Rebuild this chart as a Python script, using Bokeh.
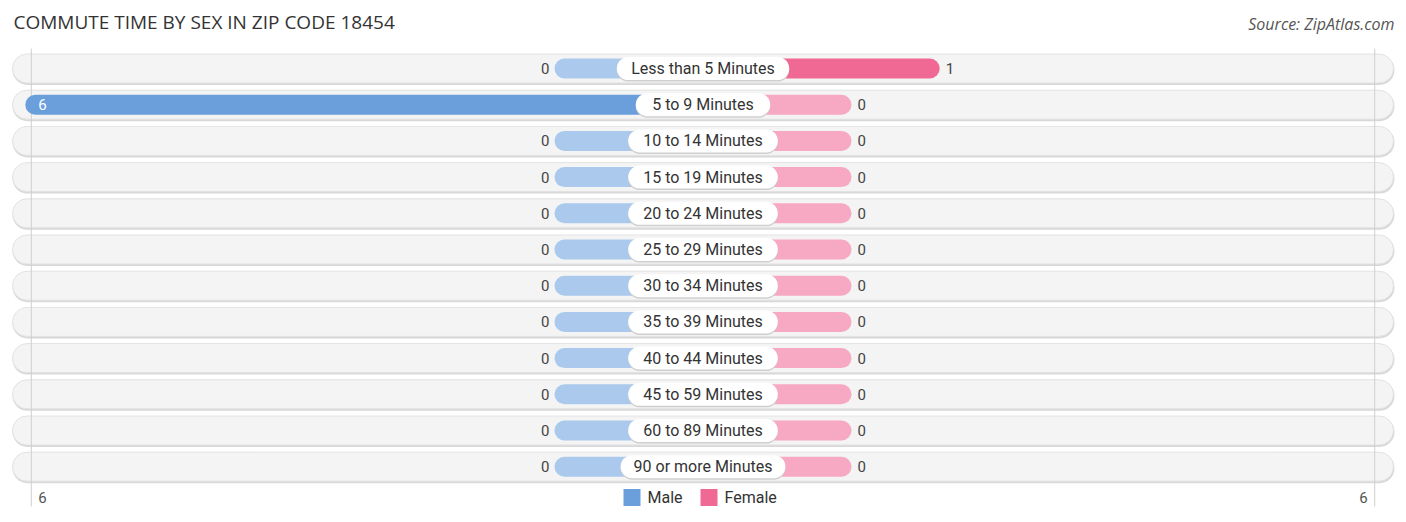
from bokeh.plotting import figure
from bokeh.models import Range1d, ColumnDataSource
from bokeh.core.properties import value
from bokeh.embed import file_html
from bokeh.resources import INLINE

# ---------------- data ----------------
categories = ["Less than 5 Minutes", "5 to 9 Minutes", "10 to 14 Minutes",
              "15 to 19 Minutes", "20 to 24 Minutes", "25 to 29 Minutes",
              "30 to 34 Minutes", "35 to 39 Minutes", "40 to 44 Minutes",
              "45 to 59 Minutes", "60 to 89 Minutes", "90 or more Minutes"]
male = [0, 6, 0, 0, 0, 0, 0, 0, 0, 0, 0, 0]
female = [1, 0, 0, 0, 0, 0, 0, 0, 0, 0, 0, 0]
axis_max = 6
axis_tick_labels = ["6", "6"]
title_text = "COMMUTE TIME BY SEX IN ZIP CODE 18454"
source_text = "Source: ZipAtlas.com"
legend_labels = ["Male", "Female"]

# ---------------- styling / layout ----------------
W, H = 1400, 516
CX = 702.5          # centre line, px
K = 88.2            # px per unit
STUB = 148.5 / K    # minimum bar stub under label
ROW0 = 68.0         # first row centre, px
ROWH = 36.2         # row spacing px

MALE_STRONG = "#6a9fdc"
MALE_LIGHT = "#aac9ec"
FEMALE_STRONG = "#f06894"
FEMALE_LIGHT = "#f7a8c2"
FONT = "Roboto"


def fx(px):
    return (px - CX) / K


def fy(py):
    return (py - ROW0) / ROWH


def dx(px):
    return px / K


def dy(py):
    return py / ROWH


p = figure(width=W, height=H, x_range=Range1d(fx(0), fx(W)),
           y_range=Range1d(fy(H), fy(0)), output_backend="svg",
           toolbar_location=None, min_border=0,
           x_axis_location=None, y_axis_location=None)
p.grid.visible = False
p.outline_line_color = None
p.background_fill_color = "white"
p.border_fill_color = "white"

n = len(categories)
rows = list(range(n))

# track backgrounds
p.hbar(y=[r + dy(1.5) for r in rows], left=fx(12), right=fx(1394), height=dy(30),
       fill_color="#d8d8d8", line_color=None, border_radius=15)
p.hbar(y=rows, left=fx(12), right=fx(1393), height=dy(29),
       fill_color="#f4f4f4", line_color="#e2e2e2", line_width=1, border_radius=15)

# grid lines at the axis extremes
ext = STUB + axis_max - dx(6)
p.segment(x0=[-ext, ext], x1=[-ext, ext], y0=fy(48), y1=fy(506),
          line_color="#cfcfcf", line_width=1)

# bars
m_left = [-(STUB + v) for v in male]
f_right = [STUB + v for v in female]
m_col = [MALE_STRONG if v > 0 else MALE_LIGHT for v in male]
f_col = [FEMALE_STRONG if v > 0 else FEMALE_LIGHT for v in female]
bars = ColumnDataSource(dict(y=rows, ml=m_left, fr=f_right, mc=m_col, fc=f_col))
p.hbar(y="y", left="ml", right=0, height=dy(20), fill_color="mc",
       line_color=None, border_radius=10, source=bars)
p.hbar(y="y", left=0, right="fr", height=dy(20), fill_color="fc",
       line_color=None, border_radius=10, source=bars)

# label pills
pill_w = [dx(len(c) * 7.6 + 28) for c in categories]
p.hbar(y=[r + dy(1.5) for r in rows], left=[-w / 2 for w in pill_w],
       right=[w / 2 for w in pill_w], height=dy(23), fill_color="#cfcfcf",
       line_color=None, border_radius=12)
p.hbar(y=rows, left=[-w / 2 for w in pill_w], right=[w / 2 for w in pill_w],
       height=dy(23), fill_color="white", line_color=None, border_radius=12)
p.text(x=0, y=rows, text=categories, text_align="center", text_baseline="middle",
       text_font=value(FONT), text_font_size="16px", text_color="#333333")

# value labels
mx, my, mt, mc, ma = [], [], [], [], []
for i, v in enumerate(male):
    if v > 0 and v >= axis_max * 0.5:
        mx.append(-(STUB + v) + dx(13)); ma.append("left"); mc.append("white")
    else:
        mx.append(-(STUB + v) - dx(5)); ma.append("right"); mc.append("#444444")
    my.append(i); mt.append(str(v))
p.text(x=mx, y=my, text=mt, text_align=ma, text_color=mc, text_baseline="middle",
       text_font=value(FONT), text_font_size="15px")
fxs = [STUB + v + dx(6) for v in female]
p.text(x=fxs, y=rows, text=[str(v) for v in female], text_align="left",
       text_baseline="middle", text_color="#444444",
       text_font=value(FONT), text_font_size="15px")

# axis tick labels
p.text(x=[-ext + dx(7), ext - dx(7)], y=fy(497), text=axis_tick_labels,
       text_align=["left", "right"], text_baseline="middle", text_color="#555555",
       text_font=value(FONT), text_font_size="15px")

# legend
p.rect(x=[fx(631.5), fx(708.5)], y=fy(497), width=dx(17), height=dy(17),
       fill_color=[MALE_STRONG, FEMALE_STRONG], line_color=None)
p.text(x=[fx(647), fx(724)], y=fy(497), text=legend_labels, text_align="left",
       text_baseline="middle", text_color="#333333",
       text_font=value(FONT), text_font_size="16px")

# title and source
p.text(x=fx(13), y=fy(21), text=[title_text], text_align="left",
       text_baseline="middle", text_color="#333333",
       text_font=value("Open Sans"), text_font_size="19px")
p.text(x=fx(1394), y=fy(23), text=[source_text], text_align="right",
       text_baseline="middle", text_color="#555555", text_font_style="italic",
       text_font=value("Open Sans"), text_font_size="16px")

open("out.html", "w").write(file_html(p, INLINE))
